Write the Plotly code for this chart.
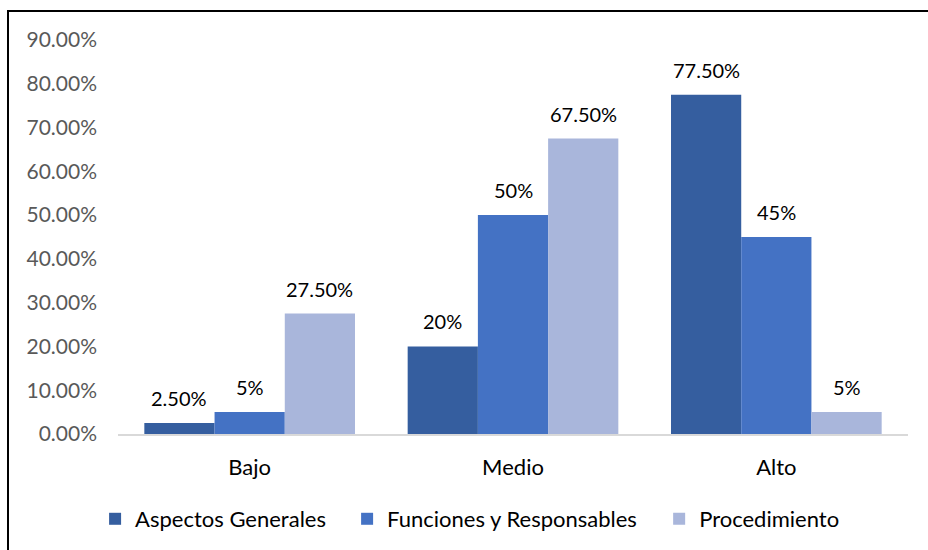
import plotly.graph_objects as go

# Nivel alcanzado por dimensión
categories = ["Bajo", "Medio", "Alto"]
series_names = ["Aspectos Generales", "Funciones y Responsables", "Procedimiento"]
aspectos = [0.025, 0.20, 0.775]
funciones = [0.05, 0.50, 0.45]
procedimiento = [0.275, 0.675, 0.05]
aspectos_labels = ["2.50%", "20%", "77.50%"]
funciones_labels = ["5%", "50%", "45%"]
procedimiento_labels = ["27.50%", "67.50%", "5%"]
y_ticks = [0, 0.1, 0.2, 0.3, 0.4, 0.5, 0.6, 0.7, 0.8, 0.9]
y_tick_labels = ["0.00%", "10.00%", "20.00%", "30.00%", "40.00%", "50.00%",
                 "60.00%", "70.00%", "80.00%", "90.00%"]

colors = ["#355E9F", "#4472C4", "#A9B6DB"]
FONT = "Lato, Carlito, 'Open Sans', sans-serif"

L, R, T, B = 118, 20, 40, 116
W, H = 928, 550
pw, ph = W - L - R, H - T - B
BARGAP = 0.2
bar_px = pw / len(categories) * (1 - BARGAP) / len(series_names)

legend_names = ["legend", "legend2", "legend3"]
legend_x = [-0.029, 0.290, 0.685]

fig = go.Figure()
annotations = []
for i, (name, vals, labels, color) in enumerate(zip(
    series_names,
    [aspectos, funciones, procedimiento],
    [aspectos_labels, funciones_labels, procedimiento_labels],
    colors,
)):
    fig.add_trace(go.Bar(
        name=name,
        x=categories,
        y=vals,
        marker=dict(color=color, line=dict(width=0)),
        legend=legend_names[i],
    ))
    # value labels above each bar
    for cat, v, lab in zip(categories, vals, labels):
        annotations.append(dict(
            x=cat, y=v, xref="x", yref="y",
            text=lab, showarrow=False,
            xshift=(i - 1) * bar_px,
            yanchor="bottom", yshift=11,
            font=dict(size=20, color="#000000", family=FONT),
        ))

legend_style = dict(
    orientation="h",
    y=-0.2157, yanchor="middle",
    xanchor="left",
    font=dict(size=22, color="#000000", family=FONT),
    bgcolor="rgba(0,0,0,0)",
)

fig.update_layout(
    width=W, height=H,
    margin=dict(l=L, r=R, t=T, b=B, pad=0, autoexpand=False),
    barmode="group",
    bargap=BARGAP,
    bargroupgap=0,
    plot_bgcolor="white",
    paper_bgcolor="white",
    font=dict(family=FONT, size=18, color="#595959"),
    showlegend=True,
    legend=dict(x=legend_x[0], **legend_style),
    legend2=dict(x=legend_x[1], **legend_style),
    legend3=dict(x=legend_x[2], **legend_style),
    annotations=annotations,
    xaxis=dict(
        showline=True, linecolor="#D9D9D9", linewidth=1.5,
        showgrid=False, ticks="",
        tickfont=dict(size=22, color="#000000"),
        ticklabelstandoff=13,
    ),
    yaxis=dict(
        range=[0, 0.9],
        tickvals=y_ticks,
        ticktext=y_tick_labels,
        showgrid=False, zeroline=False, showline=False, ticks="",
        tickfont=dict(size=21, color="#595959"),
        ticklabelstandoff=20,
    ),
    shapes=[dict(
        type="rect", xref="paper", yref="paper",
        x0=(8 - L) / pw, x1=(W + 20 - L) / pw,
        y0=(H - B - (H + 20)) / ph, y1=(H - B - 11) / ph,
        line=dict(color="#000000", width=2),
        fillcolor="rgba(0,0,0,0)",
        layer="below",
    )],
)

fig.write_html("out.html")
